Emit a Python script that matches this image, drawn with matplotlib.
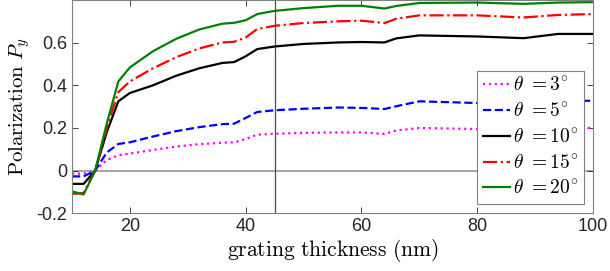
import numpy as np
import matplotlib
matplotlib.use('Agg')
import matplotlib.pyplot as plt

plt.rcParams['font.family'] = ['Liberation Sans', 'DejaVu Sans']
plt.rcParams['mathtext.fontset'] = 'cm'

thickness = [10, 12, 14, 16, 18, 20, 24, 28, 32, 36, 38, 40, 42, 45, 50, 56, 60, 64, 66, 70, 80, 88, 94, 100]

P3 = [-0.014, -0.014, 0.0, 0.05, 0.072, 0.08, 0.097, 0.113, 0.124, 0.131, 0.133, 0.148, 0.169, 0.173,
      0.177, 0.179, 0.179, 0.172, 0.188, 0.200, 0.195, 0.193, 0.199, 0.200]
P5 = [-0.027, -0.027, 0.0, 0.085, 0.125, 0.133, 0.16, 0.185, 0.204, 0.218, 0.220, 0.247, 0.275, 0.283,
      0.290, 0.296, 0.294, 0.289, 0.302, 0.325, 0.317, 0.312, 0.325, 0.328]
P10 = [-0.062, -0.062, 0.0, 0.18, 0.325, 0.364, 0.40, 0.445, 0.480, 0.505, 0.509, 0.536, 0.570, 0.582,
       0.594, 0.601, 0.603, 0.601, 0.620, 0.634, 0.629, 0.621, 0.641, 0.641]
P15 = [-0.109, -0.105, 0.0, 0.2, 0.368, 0.418, 0.48, 0.532, 0.573, 0.601, 0.604, 0.624, 0.664, 0.679,
       0.692, 0.700, 0.703, 0.692, 0.712, 0.728, 0.728, 0.718, 0.730, 0.734]
P20 = [-0.097, -0.112, 0.0, 0.22, 0.418, 0.484, 0.56, 0.618, 0.662, 0.689, 0.693, 0.705, 0.734, 0.749,
       0.762, 0.773, 0.773, 0.760, 0.772, 0.786, 0.788, 0.782, 0.788, 0.790]

angles = [3, 5, 10, 15, 20]
series = [P3, P5, P10, P15, P20]
colors = ['#ff00ff', '#0000ff', 'k', '#ff0000', '#008000']
styles = [':', '--', '-', '-.', '-']

fig = plt.figure(figsize=(6.10, 2.71), dpi=100)
ax = fig.add_axes([72/610, 1 - 213.3/271, (593 - 72)/610, 213.3/271])

ax.axhline(0, color='0.65', lw=1.4, zorder=1)
ax.axvline(45, color='0.3', lw=0.9, zorder=1)

for a, y, c, s in zip(angles, series, colors, styles):
    ax.plot(thickness, y, color=c, ls=s, lw=1.6, label=r'$\theta\ {=}%d^{\!\circ}$' % a)

ax.set_xlim(10, 100)
ax.set_ylim(-0.2, 0.8)
ax.set_xticks([20, 40, 60, 80, 100])
ax.set_yticks([-0.2, 0, 0.2, 0.4, 0.6])
ax.set_yticklabels(['-0.2', '0', '0.2', '0.4', '0.6'])
ax.tick_params(direction='in', top=True, right=True, labelsize=13, colors='0.15', length=4, width=0.6)
for sp in ax.spines.values():
    sp.set_color('0.5')
    sp.set_linewidth(0.8)

ax.set_xlabel(r'$\mathrm{grating\ thickness\ (nm)}$', fontsize=15.5, labelpad=1)
ax.set_ylabel(r'$\mathrm{Polarization}\ P_y$', fontsize=15, labelpad=3)

leg = ax.legend(loc='lower right', bbox_to_anchor=(584/610, 1 - 204/271), bbox_transform=fig.transFigure,
                fontsize=14, handlelength=1.4, handletextpad=0.15, labelspacing=0.38,
                borderpad=0.3, borderaxespad=0, fancybox=False, framealpha=1)
leg.get_frame().set_edgecolor('0.5')
leg.get_frame().set_linewidth(0.8)

fig.savefig('out.png', dpi=100)
